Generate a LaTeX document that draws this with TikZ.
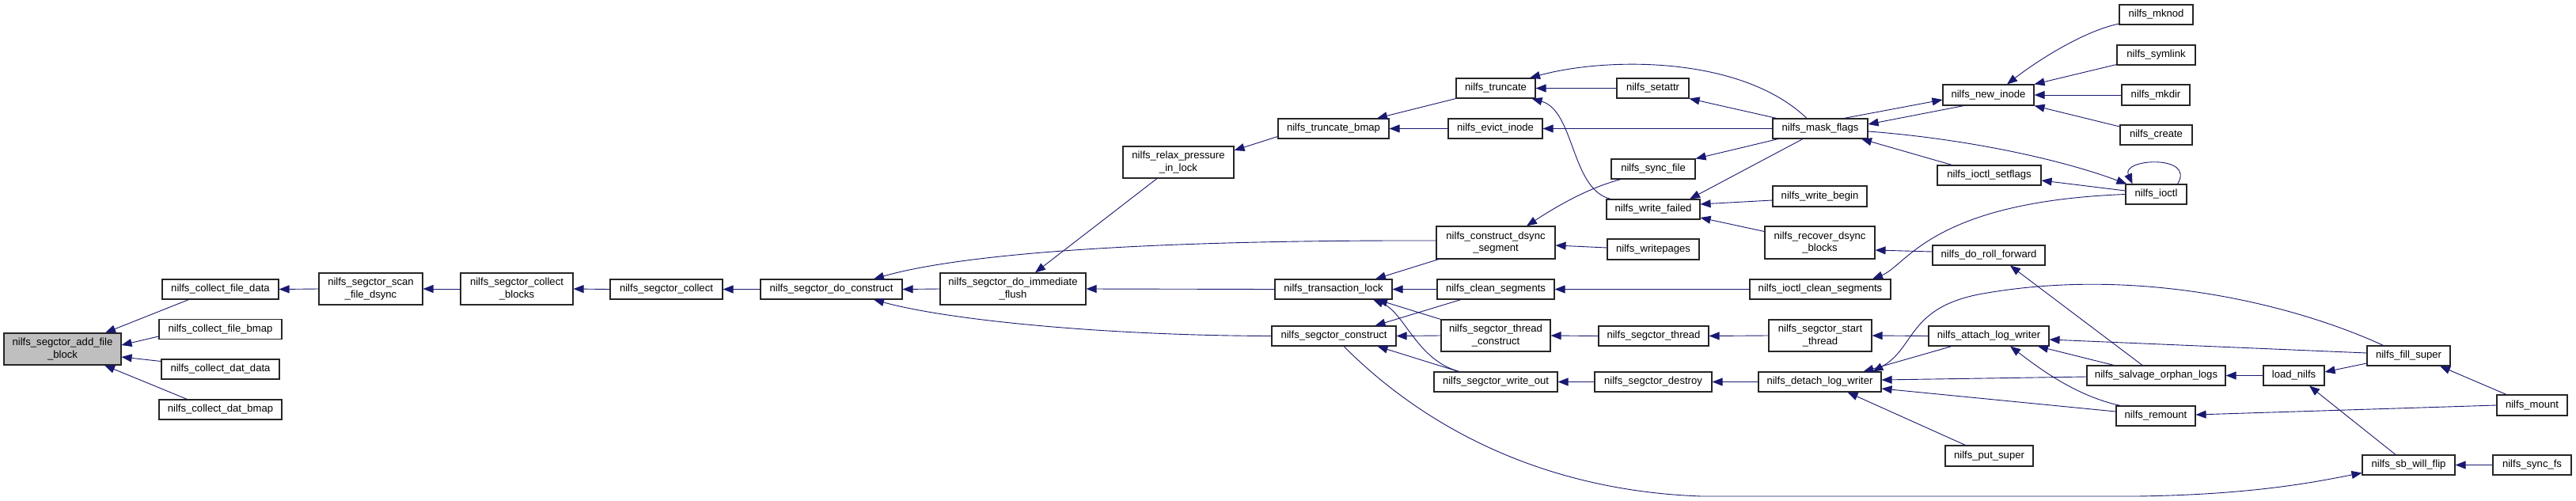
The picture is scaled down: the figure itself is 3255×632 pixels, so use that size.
\documentclass[tikz,border=0pt]{standalone}
\usepackage{fontspec}
\setmainfont{Liberation Sans}
\usetikzlibrary{arrows.meta}
\definecolor{edgeblue}{RGB}{25,25,112}
\definecolor{rootgray}{RGB}{191,191,191}
\newcommand{\gnode}[7][box]{\node[#1,minimum width=#5pt,minimum height=#6pt] (#2) at (#3,#4) {#7};}
\begin{document}
\begin{tikzpicture}[x=1pt,y=-1pt,
 box/.style={draw=black!85, line width=1.1pt, fill=white, inner sep=0pt, align=center, font=\fontsize{13.1}{15.5}\selectfont},
 root/.style={box, fill=rootgray},
 edge/.style={draw=edgeblue, line width=0.9pt, {Triangle[length=13pt,width=10pt]}-}]
\fill[white] (0,0) rectangle (3255,632);
\useasboundingbox (0,0) rectangle (3255,632);
% nodes
\gnode[root]{add}{79}{441}{148}{40}{nilfs\_segctor\_add\_file\\\_block}
\gnode{cfd}{278.5}{365.5}{147}{25}{nilfs\_collect\_file\_data}
\gnode{cfb}{278.5}{416}{155}{25}{nilfs\_collect\_file\_bmap}
\gnode{cdd}{278.5}{466.5}{149}{25}{nilfs\_collect\_dat\_data}
\gnode{cdb}{278.5}{517.5}{155}{25}{nilfs\_collect\_dat\_bmap}
\gnode{scan}{468.5}{365}{131}{40}{nilfs\_segctor\_scan\\\_file\_dsync}
\gnode{cblk}{653}{365}{142}{40}{nilfs\_segctor\_collect\\\_blocks}
\gnode{coll}{842}{365.5}{142}{25}{nilfs\_segctor\_collect}
\gnode{doc}{1050.5}{365.5}{179}{25}{nilfs\_segctor\_do\_construct}
\gnode{flush}{1280}{365}{184}{40}{nilfs\_segctor\_do\_immediate\\\_flush}
\gnode{relax}{1489}{205}{140}{40}{nilfs\_relax\_pressure\\\_in\_lock}
\gnode{tbmap}{1685}{162.5}{140}{25}{nilfs\_truncate\_bmap}
\gnode{tlock}{1685}{365.5}{148}{25}{nilfs\_transaction\_lock}
\gnode{sconstr}{1685.5}{424.5}{157}{25}{nilfs\_segctor\_construct}
\gnode{trunc}{1890}{111.5}{100}{25}{nilfs\_truncate}
\gnode{evict}{1889.5}{162.5}{119}{25}{nilfs\_evict\_inode}
\gnode{dsync}{1890}{306.5}{150}{41}{nilfs\_construct\_dsync\\\_segment}
\gnode{clean}{1890}{365.5}{148}{25}{nilfs\_clean\_segments}
\gnode{thrc}{1890}{424}{138}{40}{nilfs\_segctor\_thread\\\_construct}
\gnode{wout}{1890}{482.5}{156}{25}{nilfs\_segctor\_write\_out}
\gnode{setattr}{2088.5}{111.5}{91}{25}{nilfs\_setattr}
\gnode{syncf}{2089}{213.5}{106}{25}{nilfs\_sync\_file}
\gnode{wfail}{2089}{264.5}{118}{25}{nilfs\_write\_failed}
\gnode{wpages}{2089}{315}{116}{26}{nilfs\_writepages}
\gnode{sthread}{2089.5}{424.5}{139}{25}{nilfs\_segctor\_thread}
\gnode{destroy}{2089}{482.5}{148}{25}{nilfs\_segctor\_destroy}
\gnode{mask}{2300}{162.5}{120}{25}{nilfs\_mask\_flags}
\gnode{wbegin}{2299.5}{248}{119}{26}{nilfs\_write\_begin}
\gnode{recover}{2299.5}{306.5}{139}{41}{nilfs\_recover\_dsync\\\_blocks}
\gnode{iclean}{2300}{365.5}{178}{25}{nilfs\_ioctl\_clean\_segments}
\gnode{start}{2300}{424}{130}{40}{nilfs\_segctor\_start\\\_thread}
\gnode{detach}{2299.5}{482.5}{155}{25}{nilfs\_detach\_log\_writer}
\gnode{newinode}{2512.5}{120}{115}{26}{nilfs\_new\_inode}
\gnode{setflags}{2513.5}{221.5}{131}{25}{nilfs\_ioctl\_setflags}
\gnode{roll}{2513}{322.5}{142}{25}{nilfs\_do\_roll\_forward}
\gnode{attach}{2513}{424.5}{152}{25}{nilfs\_attach\_log\_writer}
\gnode{puts}{2513.5}{576}{111}{26}{nilfs\_put\_super}
\gnode{mknod}{2724.5}{18.5}{93}{25}{nilfs\_mknod}
\gnode{symlink}{2724.5}{69.5}{99}{25}{nilfs\_symlink}
\gnode{mkdir}{2724}{120}{86}{26}{nilfs\_mkdir}
\gnode{create}{2724.5}{170.5}{91}{25}{nilfs\_create}
\gnode{ioctl}{2724.5}{245.5}{77}{25}{nilfs\_ioctl}
\gnode{salvage}{2724.5}{474.5}{175}{25}{nilfs\_salvage\_orphan\_logs}
\gnode{remount}{2724}{525.5}{100}{25}{nilfs\_remount}
\gnode{load}{2898.5}{474.5}{77}{25}{load\_nilfs}
\gnode{fill}{3043.5}{449.5}{105}{25}{nilfs\_fill\_super}
\gnode{sbflip}{3043.5}{587.5}{117}{25}{nilfs\_sb\_will\_flip}
\gnode{mount}{3199.5}{512}{89}{26}{nilfs\_mount}
\gnode{syncfs}{3199.5}{587.5}{99}{25}{nilfs\_sync\_fs}
% edges (arrow head at the first point)
\draw[edge] ([xshift=54pt]add.north) -- ([xshift=-40pt]cfd.south);
\draw[edge] ([yshift=5pt]add.east) -- ([yshift=-9pt]cfb.west);
\draw[edge] ([yshift=-10pt]add.east) -- ([yshift=10pt]cdd.west);
\draw[edge] ([xshift=53pt]add.south) -- ([xshift=-42pt]cdb.north);
\draw[edge] (cfd.east) -- (scan.west);
\draw[edge] (scan.east) -- (cblk.west);
\draw[edge] (cblk.east) -- (coll.west);
\draw[edge] (coll.east) -- (doc.west);
\draw[edge] (doc.east) -- (flush.west);
\draw[edge] ([xshift=53.5pt]doc.north) .. controls (1200,325) and (1400,303) .. ([yshift=2.5pt]dsync.west);
\draw[edge] ([xshift=53.5pt]doc.south) .. controls (1200,405) and (1400,424) .. (sconstr.west);
\draw[edge] ([xshift=28pt]flush.north) -- ([xshift=-27pt]relax.south);
\draw[edge] (flush.east) -- (tlock.west);
\draw[edge] ([yshift=15pt]relax.east) -- ([yshift=-10pt]tbmap.west);
\draw[edge] ([xshift=55pt]tbmap.north) -- (trunc.south west);
\draw[edge] (tbmap.east) -- (evict.west);
\draw[edge] (trunc.east) -- (setattr.west);
\draw[edge] ([xshift=43pt]trunc.north) .. controls (2030,72) and (2200,70) .. ([xshift=-17pt]mask.north);
\draw[edge] ([xshift=-5pt]trunc.south east) .. controls (1990,140) and (1985,240) .. ([xshift=6pt]wfail.north west);
\draw[edge] (setattr.south east) -- ([xshift=-55pt]mask.north);
\draw[edge] (evict.east) -- (mask.west);
\draw[edge] (syncf.north east) -- ([xshift=-53pt]mask.south);
\draw[edge] ([xshift=46pt]wfail.north) -- ([xshift=-22pt]mask.south);
\draw[edge] ([yshift=6.5pt]wfail.east) -- ([yshift=-5pt]wbegin.west);
\draw[edge] ([yshift=-10.5pt]wfail.east) -- ([yshift=14pt]recover.west);
\draw[edge] ([yshift=5.5pt]mask.east) -- ([xshift=-31pt]newinode.south);
\draw[edge] ([yshift=-6pt]newinode.west) -- ([xshift=30pt]mask.north);
\draw[edge] ([xshift=52pt]mask.south) -- ([xshift=-47pt]setflags.north);
\draw[edge] ([xshift=2pt]ioctl.north west) .. controls (2600,200) and (2480,175) .. ([yshift=-3.5pt]mask.east);
\draw[edge] ([xshift=-30pt]ioctl.north) .. controls (2680,200) and (2775,195) .. ([xshift=27pt]ioctl.north);
\draw[edge] ([yshift=-6.5pt]setflags.east) -- ([yshift=4.5pt]ioctl.west);
\draw[edge] ([yshift=-9.5pt]recover.east) -- ([yshift=4.5pt]roll.west);
\draw[edge] ([xshift=66pt]iclean.north) .. controls (2410,335) and (2440,255) .. (ioctl.west);
\draw[edge] (clean.east) -- (iclean.west);
\draw[edge] ([xshift=53pt]tlock.north) -- ([xshift=-72pt]dsync.south);
\draw[edge] (tlock.east) -- (clean.west);
\draw[edge] ([xshift=55pt]tlock.south) -- (thrc.north west);
\draw[edge] ([xshift=50pt]tlock.south) .. controls (1775,395) and (1790,455) .. ([xshift=-46pt]wout.north);
\draw[edge] ([xshift=52pt]sconstr.north) -- ([xshift=-44pt]clean.south);
\draw[edge] (sconstr.east) -- (thrc.west);
\draw[edge] ([xshift=55pt]sconstr.south) -- ([xshift=-47pt]wout.north);
\draw[edge] ([xshift=39pt]dsync.north) .. controls (1965,262) and (2005,238) .. ([xshift=-41pt]syncf.south);
\draw[edge] ([yshift=-3.5pt]dsync.east) -- ([yshift=2pt]wpages.west);
\draw[edge] (thrc.east) -- (sthread.west);
\draw[edge] (sthread.east) -- (start.west);
\draw[edge] (start.east) -- (attach.west);
\draw[edge] (wout.east) -- (destroy.west);
\draw[edge] (destroy.east) -- (detach.west);
\draw[edge] ([xshift=55pt]detach.north) -- ([xshift=-47pt]attach.south);
\draw[edge] ([xshift=67pt]detach.north) .. controls (2420,440) and (2410,390) .. (2500,372) .. controls (2700,335) and (2900,385) .. ([xshift=-32pt]fill.north);
\draw[edge] ([yshift=2.5pt]detach.east) -- ([yshift=-1.5pt]salvage.west);
\draw[edge] ([yshift=-8.5pt]detach.east) -- ([yshift=5.5pt]remount.west);
\draw[edge] ([xshift=35pt]detach.south) -- ([xshift=-30pt]puts.north);
\draw[edge] ([yshift=-4.5pt]attach.east) -- ([yshift=3.5pt]fill.west);
\draw[edge] ([xshift=62pt]attach.south) -- ([xshift=-53.5pt]salvage.north);
\draw[edge] ([xshift=27pt]attach.south) .. controls (2570,460) and (2620,500) .. ([xshift=6pt]remount.north west);
\draw[edge] ([xshift=27pt]roll.south) -- ([xshift=-17.5pt]salvage.north);
\draw[edge] (salvage.east) -- (load.west);
\draw[edge] ([yshift=4.5pt]load.east) -- ([yshift=-9.5pt]fill.west);
\draw[edge] ([xshift=19.5pt]load.south) -- ([xshift=-16.5pt]sbflip.north);
\draw[edge] ([xshift=39.5pt]fill.south) -- ([xshift=-32.5pt]mount.north);
\draw[edge] ([yshift=1.5pt]remount.east) -- (mount.west);
\draw[edge] (sbflip.east) -- (syncfs.west);
\draw[edge] ([yshift=-10pt]sbflip.west) .. controls (2930,608) and (2850,625) .. (2700,627) -- (2150,627) .. controls (1950,620) and (1800,540) .. ([xshift=12.5pt]sconstr.south);
\draw[edge] ([xshift=23.5pt]newinode.north) .. controls (2570,80) and (2630,40) .. ([yshift=-11.5pt]mknod.west);
\draw[edge] (newinode.north east) -- ([yshift=-12pt]symlink.west);
\draw[edge] (newinode.east) -- (mkdir.west);
\draw[edge] (newinode.south east) -- ([yshift=10.5pt]create.west);
\end{tikzpicture}
\end{document}
